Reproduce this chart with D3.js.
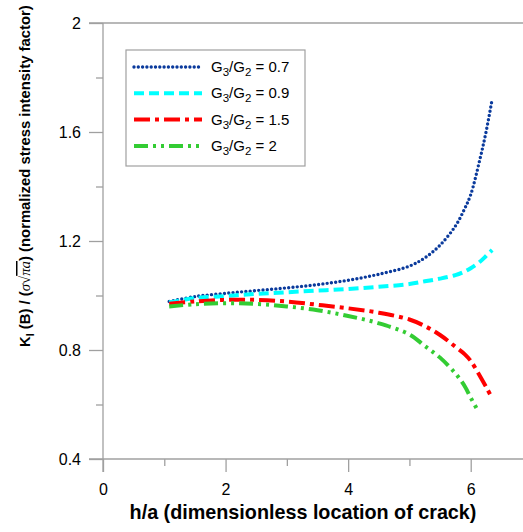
<!DOCTYPE html>
<html>
<head>
<meta charset="utf-8">
<script src="https://cdn.jsdelivr.net/npm/d3@7"></script>
<style>
  body { margin: 0; background: #fff; }
  svg { display: block; font-family: Arial, "Liberation Sans", sans-serif; }
</style>
</head>
<body>
<script>
// values
var xTicks = [0, 2, 4, 6];
var xMinor = [1, 3, 5, 7];
var yTicks = [0.4, 0.8, 1.2, 1.6, 2];
var yMinor = [0.6, 1.0, 1.4, 1.8];

var hA = [1.08, 1.5, 2, 2.5, 3, 3.5, 4, 4.5, 5, 5.25, 5.5, 5.75, 5.9, 6, 6.15, 6.25, 6.35];
var k07 = [0.978, 0.996, 1.008, 1.018, 1.028, 1.04, 1.056, 1.078, 1.108, 1.138, 1.185, 1.255, 1.318, 1.37, 1.5, 1.6, 1.72];
var k09 = [0.975, 0.99, 0.998, 1.006, 1.012, 1.018, 1.024, 1.032, 1.042, 1.052, 1.062, 1.075, 1.088, 1.1, 1.124, 1.145, 1.167];
var k15 = [0.97, 0.978, 0.984, 0.984, 0.978, 0.966, 0.953, 0.937, 0.912, 0.888, 0.855, 0.812, 0.785, 0.76, 0.705, 0.665, 0.623];
var hA2 = [1.08, 1.5, 2, 2.5, 3, 3.5, 4, 4.5, 5, 5.25, 5.5, 5.75, 5.9, 6, 6.11];
var k20 = [0.96, 0.968, 0.972, 0.969, 0.96, 0.946, 0.925, 0.898, 0.857, 0.815, 0.772, 0.714, 0.668, 0.625, 0.58];

var ratios = ["0.7", "0.9", "1.5", "2"];

var series = [
  { name: ratios[0], xs: hA, ys: k07, color: "#0a3a9c", width: 3.4, dash: "0 4.3", cap: "round" },
  { name: ratios[1], xs: hA, ys: k09, color: "#00ffff", width: 4, dash: "10 5", cap: "butt" },
  { name: ratios[2], xs: hA, ys: k15, color: "#ff0000", width: 4, dash: "16 5 4 5", cap: "butt" },
  { name: ratios[3], xs: hA2, ys: k20, color: "#33cc33", width: 4, dash: "14 5 3 5 3 5", cap: "butt" }
];

var W = 523, H = 532;
var svg = d3.select("body").append("svg").attr("width", W).attr("height", H);

var x = d3.scaleLinear().domain([0, 7]).range([103, 532]);
var y = d3.scaleLinear().domain([0.4, 2]).range([459, 23]);
var axisColor = "#a0a0a0";

// frame lines
var g = svg.append("g").attr("stroke", axisColor).attr("stroke-width", 1.3);
g.append("line").attr("x1", x(0) - 14).attr("x2", x(7)).attr("y1", y(0.4)).attr("y2", y(0.4));
g.append("line").attr("x1", x(0) - 14).attr("x2", x(7)).attr("y1", y(2)).attr("y2", y(2));
g.append("line").attr("x1", x(0)).attr("x2", x(0)).attr("y1", y(2)).attr("y2", y(0.4) + 13);

// x axis ticks
svg.append("g").attr("transform", "translate(0," + y(0.4) + ")")
  .call(d3.axisBottom(x).tickValues(xTicks).tickSize(13).tickSizeOuter(0).tickPadding(12).tickFormat(d3.format("d")));
svg.append("g").attr("transform", "translate(0," + y(0.4) + ")")
  .call(d3.axisBottom(x).tickValues(xMinor).tickSize(7).tickSizeOuter(0).tickFormat(""));

// y axis ticks
svg.append("g").attr("transform", "translate(" + x(0) + ",0)")
  .call(d3.axisLeft(y).tickValues(yTicks).tickSize(14).tickSizeOuter(0).tickPadding(8).tickFormat(function(d){ return d3.format("")(d); }));
svg.append("g").attr("transform", "translate(" + x(0) + ",0)")
  .call(d3.axisLeft(y).tickValues(yMinor).tickSize(7).tickSizeOuter(0).tickFormat(""));

svg.selectAll(".domain").remove();
svg.selectAll(".tick line").attr("stroke", axisColor).attr("stroke-width", 1.3);
svg.selectAll(".tick text").attr("fill", "#000").style("font-size", "16px").style("font-family", "Arial, 'Liberation Sans', sans-serif");

// curves
var line = d3.line().curve(d3.curveCatmullRom.alpha(0.5));
series.forEach(function(s) {
  var pts = s.xs.map(function(v, i) { return [x(v), y(s.ys[i])]; });
  svg.append("path")
    .attr("d", line(pts))
    .attr("fill", "none")
    .attr("stroke", s.color)
    .attr("stroke-width", s.width)
    .attr("stroke-dasharray", s.dash)
    .attr("stroke-linecap", s.cap);
});

// legend
var leg = svg.append("g");
leg.append("rect").attr("x", 126).attr("y", 50).attr("width", 179).attr("height", 116)
  .attr("fill", "#fff").attr("stroke", "#a0a0a0").attr("stroke-width", 1.2);
series.forEach(function(s, i) {
  var ly = 67 + i * 26.3;
  leg.append("line").attr("x1", 134).attr("x2", 202).attr("y1", ly).attr("y2", ly)
    .attr("stroke", s.color).attr("stroke-width", s.width)
    .attr("stroke-dasharray", s.dash).attr("stroke-linecap", s.cap);
  var t = leg.append("text").attr("x", 211).attr("y", ly + 5).attr("font-size", 15).attr("fill", "#000");
  t.append("tspan").text("G");
  t.append("tspan").attr("dy", 4).attr("font-size", 11.5).text("3");
  t.append("tspan").attr("dy", -4).text("/G");
  t.append("tspan").attr("dy", 4).attr("font-size", 11.5).text("2");
  t.append("tspan").attr("dy", -4).text(" = " + s.name);
});

// fit a title to the length it has in the reference
function fit(sel, base, target) {
  var len = sel.node().getComputedTextLength();
  sel.attr("font-size", base * target / len);
}

// axis titles
var xt = svg.append("text").attr("x", 303).attr("y", 519).attr("text-anchor", "middle")
  .attr("font-size", 18).attr("font-weight", "bold").text("h/a (dimensionless location of crack)");
fit(xt, 18, 347);

var yt = svg.append("text").attr("transform", "translate(30,347) rotate(-90)")
  .attr("font-size", 17).attr("font-weight", "bold");
yt.append("tspan").text("K");
yt.append("tspan").attr("dy", 4).attr("font-size", "0.7em").text("I");
yt.append("tspan").attr("dy", -4).text(" (B) / (");
yt.append("tspan").attr("font-family", "'Liberation Serif', serif").attr("font-style", "italic").attr("font-weight", "normal").text("σ√");
yt.append("tspan").attr("font-family", "'Liberation Serif', serif").attr("font-style", "italic").attr("font-weight", "normal")
  .style("text-decoration", "overline").text("πa");
yt.append("tspan").text(") (normalized stress intensity factor)");
fit(yt, 17, 342);
</script>
</body>
</html>
